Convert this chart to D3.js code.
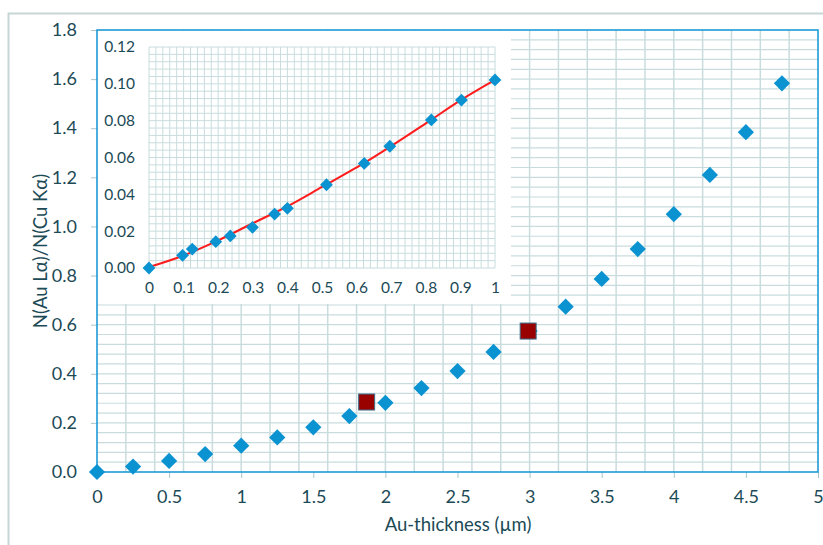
<!DOCTYPE html>
<html>
<head>
<meta charset="utf-8">
<script src="https://d3js.org/d3.v7.min.js"></script>
<title>Au thickness calibration</title>
<style>
body {margin:0; background:#fff;}
text {font-family: Lato, "Open Sans", sans-serif; fill:#1c4a56;}
</style>
</head>
<body>
<div id="myDiv"></div>
<script>
// main series: Au-thickness (um) vs ratio
var thickness = [0,0.25,0.5,0.75,1,1.25,1.5,1.75,2,2.25,2.5,2.75,3,3.25,3.5,3.75,4,4.25,4.5,4.75];
var ratio = [0,0.022,0.045,0.073,0.107,0.141,0.182,0.228,0.282,0.342,0.411,0.489,0.574,0.673,0.786,0.908,1.050,1.210,1.384,1.583];

// measured samples (red squares)
var sampleX = [1.87, 2.99];
var sampleY = [0.285, 0.574];

// inset series
var insetX = [0,0.097,0.125,0.193,0.235,0.299,0.363,0.400,0.513,0.622,0.696,0.816,0.903,1.0];
var insetY = [0,0.0069,0.0103,0.0143,0.0174,0.0221,0.0293,0.0324,0.0452,0.0568,0.0661,0.0804,0.0912,0.1021];

// inset trend line
var trendX = [0,0.1,0.2,0.3,0.4,0.5,0.62,0.7,0.8,0.9,1.0];
var trendY = [0.0005,0.0068,0.0150,0.0243,0.0335,0.0440,0.0568,0.0662,0.0785,0.0910,0.1021];

var mainXTicks = [0,0.5,1,1.5,2,2.5,3,3.5,4,4.5,5];
var mainYTicks = [0,0.2,0.4,0.6,0.8,1.0,1.2,1.4,1.6,1.8];
var insetXTicks = [0,0.1,0.2,0.3,0.4,0.5,0.6,0.7,0.8,0.9,1];
var insetYTicks = [0,0.02,0.04,0.06,0.08,0.10,0.12];

var gridColor = "#c9dcdd";
var blue = "#0b93d1";
var txt = "#1c4a56";

var svg = d3.select("#myDiv").append("svg")
	.attr("width", 823)
	.attr("height", 545);

// outer chart border
svg.append("rect")
	.attr("x", 8.5).attr("y", 13.5)
	.attr("width", 830).attr("height", 560)
	.attr("fill", "none")
	.attr("stroke", "#c6d6d6")
	.attr("stroke-width", 2);

var x = d3.scaleLinear().domain([0,5]).range([97,818]);
var y = d3.scaleLinear().domain([0,1.8]).range([472,30]);

// main grid
var g = svg.append("g");
g.selectAll(".vg").data(d3.range(1,25).map(function(i){return i*0.2;}))
	.enter().append("line")
	.attr("x1", function(d){return x(d);}).attr("x2", function(d){return x(d);})
	.attr("y1", y(0)).attr("y2", y(1.8))
	.attr("stroke", gridColor).attr("stroke-width", 1.5);
g.selectAll(".hg").data(d3.range(1,45).map(function(i){return i*0.04;}))
	.enter().append("line")
	.attr("x1", x(0)).attr("x2", x(5))
	.attr("y1", function(d){return y(d);}).attr("y2", function(d){return y(d);})
	.attr("stroke", gridColor).attr("stroke-width", 1.2);

// main axes
var yaxis = d3.axisLeft(y).tickValues(mainYTicks).tickFormat(d3.format(".1f")).tickSize(6).tickPadding(14);
var xaxis = d3.axisBottom(x).tickValues(mainXTicks).tickFormat(d3.format("")).tickSize(6).tickPadding(12);

var ya = svg.append("g").attr("transform","translate(97,0)").call(yaxis);
var xa = svg.append("g").attr("transform","translate(0,472)").call(xaxis);
[ya, xa].forEach(function(a){
	a.select(".domain").remove();
	a.selectAll("line").attr("stroke", "#aac4cc");
	a.selectAll("text").style("font-size","18px").style("font-family","Lato, sans-serif").attr("fill",txt);
});

// inset panel
svg.append("rect")
	.attr("x", 98).attr("y", 31)
	.attr("width", 413).attr("height", 273)
	.attr("fill", "#fff");

var ix = d3.scaleLinear().domain([0,1]).range([149,495]);
var iy = d3.scaleLinear().domain([0,0.12]).range([268,47]);

var ig = svg.append("g");
ig.selectAll(".ivg").data(d3.range(0,51).map(function(i){return i*0.02;}))
	.enter().append("line")
	.attr("x1", function(d){return ix(d);}).attr("x2", function(d){return ix(d);})
	.attr("y1", iy(0)).attr("y2", iy(0.12))
	.attr("stroke", gridColor).attr("stroke-width", 1);
ig.selectAll(".ihg").data(d3.range(0,31).map(function(i){return i*0.004;}))
	.enter().append("line")
	.attr("x1", ix(0)).attr("x2", ix(1))
	.attr("y1", function(d){return iy(d);}).attr("y2", function(d){return iy(d);})
	.attr("stroke", gridColor).attr("stroke-width", 1);

var iyaxis = d3.axisLeft(iy).tickValues(insetYTicks).tickFormat(d3.format(".2f")).tickSize(0).tickPadding(14);
var ixaxis = d3.axisBottom(ix).tickValues(insetXTicks).tickFormat(d3.format("")).tickSize(0).tickPadding(14);
var iya = svg.append("g").attr("transform","translate(149,0)").call(iyaxis);
var ixa = svg.append("g").attr("transform","translate(0,268)").call(ixaxis);
[iya, ixa].forEach(function(a){
	a.select(".domain").remove();
	a.selectAll("text").style("font-size","15.5px").style("font-family","Lato, sans-serif").attr("fill",txt);
});

// inset trend line
var trend = trendX.map(function(d,i){return [d, trendY[i]];});
svg.append("path")
	.datum(trend)
	.attr("fill","none")
	.attr("stroke","#ff1c1c")
	.attr("stroke-width",2)
	.attr("d", d3.line().x(function(d){return ix(d[0]);}).y(function(d){return iy(d[1]);}).curve(d3.curveCatmullRom));

// inset points
svg.selectAll(".ipt").data(insetX.map(function(d,i){return [d, insetY[i]];}))
	.enter().append("path")
	.attr("d", d3.symbol().type(d3.symbolSquare).size(82))
	.attr("transform", function(d){return "translate(" + ix(d[0]) + "," + iy(d[1]) + ") rotate(45)";})
	.attr("fill", blue);

// main frame
svg.append("rect")
	.attr("x", x(0)).attr("y", y(1.8))
	.attr("width", x(5)-x(0)).attr("height", y(0)-y(1.8))
	.attr("fill","none")
	.attr("stroke","#1d9ad8")
	.attr("stroke-width",1.6);

// main points
svg.selectAll(".pt").data(thickness.map(function(d,i){return [d, ratio[i]];}))
	.enter().append("path")
	.attr("d", d3.symbol().type(d3.symbolSquare).size(132))
	.attr("transform", function(d){return "translate(" + x(d[0]) + "," + y(d[1]) + ") rotate(45)";})
	.attr("fill", blue);

// samples
svg.selectAll(".smp").data(sampleX.map(function(d,i){return [d, sampleY[i]];}))
	.enter().append("rect")
	.attr("x", function(d){return x(d[0]) - 8;})
	.attr("y", function(d){return y(d[1]) - 8;})
	.attr("width", 16).attr("height", 16)
	.attr("fill", "#990000")
	.attr("stroke", "#3b6f8e")
	.attr("stroke-width", 1);

// axis titles
svg.append("text")
	.attr("x", 458).attr("y", 531)
	.attr("text-anchor","middle")
	.style("font-size","18.5px")
	.text("Au-thickness (\u00b5m)");

svg.append("text")
	.attr("transform","translate(47,251) rotate(-90)")
	.attr("text-anchor","middle")
	.style("font-size","18.5px")
	.text("N(Au L\u03b1)/N(Cu K\u03b1)");
</script>
</body>
</html>
